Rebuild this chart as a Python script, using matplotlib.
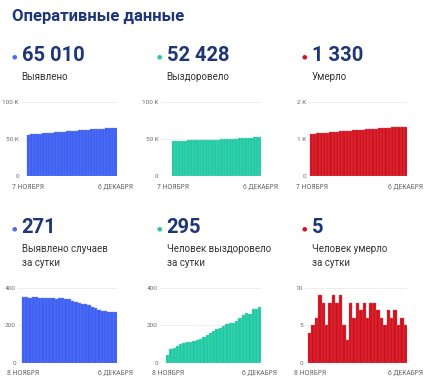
import matplotlib
matplotlib.use("Agg")
import matplotlib.pyplot as plt

W, H = 430, 388

title = "Оперативные данные"

# cumulative totals, 7 Nov .. 6 Dec
cases_total = [55689, 56039, 56387, 56734, 57082, 57431, 57778, 58124, 58469, 58813,
               59156, 59497, 59840, 60184, 60526, 60864, 61194, 61516, 61834, 62150,
               62462, 62768, 63068, 63360, 63644, 63922, 64196, 64468, 64739, 65010]
recovered_total = [47417, 47462, 47537, 47617, 47707, 47807, 47913, 48023, 48137, 48255,
                   48379, 48509, 48647, 48795, 48953, 49121, 49299, 49487, 49685, 49891,
                   50103, 50317, 50539, 50779, 51034, 51302, 51560, 51848, 52133, 52428]
deaths_total = [1138, 1142, 1147, 1153, 1162, 1170, 1175, 1183, 1192, 1200,
                1209, 1214, 1217, 1225, 1231, 1239, 1246, 1254, 1260, 1268,
                1276, 1283, 1289, 1294, 1301, 1307, 1314, 1319, 1325, 1330]

# daily values, 8 Nov .. 6 Dec
cases_daily = [350, 348, 347, 348, 349, 347, 346, 345, 344, 343, 341, 343, 344, 342, 338,
               330, 322, 318, 316, 312, 306, 300, 292, 284, 278, 274, 272, 271, 271]
recovered_daily = [45, 75, 80, 90, 100, 106, 110, 114, 118, 124, 130, 138, 148, 158, 168,
                   178, 188, 198, 206, 212, 214, 222, 240, 255, 268, 258, 288, 285, 295]
deaths_daily = [4, 5, 6, 9, 8, 5, 8, 9, 8, 9, 5, 3, 8, 6, 8, 7, 8, 6, 8, 8,
                7, 6, 5, 7, 6, 7, 5, 6, 5]

big_numbers = ["65 010", "52 428", "1 330", "271", "295", "5"]
labels = ["Выявлено", "Выздоровело", "Умерло",
          "Выявлено случаев\nза сутки", "Человек выздоровело\nза сутки", "Человек умерло\nза сутки"]
first_dates = ["7 НОЯБРЯ", "7 НОЯБРЯ", "7 НОЯБРЯ", "8 НОЯБРЯ", "8 НОЯБРЯ", "8 НОЯБРЯ"]
last_date = "6 ДЕКАБРЯ"

yticks_list = [[0, 50000, 100000], [0, 50000, 100000], [0, 1000, 2000],
               [0, 200, 400], [0, 200, 400], [0, 5, 10]]
ytick_labels = [["0", "50 K", "100 K"], ["0", "50 K", "100 K"], ["0", "1 K", "2 K"],
                ["0", "200", "400"], ["0", "200", "400"], ["0", "5", "10"]]

series = [cases_total, recovered_total, deaths_total,
          cases_daily, recovered_daily, deaths_daily]

BLUE = "#3d5ff2"
TEAL = "#1fc9a3"
RED = "#d1121f"
colors = [BLUE, TEAL, RED, BLUE, TEAL, RED]
edge_colors = ["#6f88f5", "#6fdcc3", "#e0545e"] * 2
dot_colors = ["#4f6fe6", "#2cc6a2", "#cf1424"] * 2
NAVY = "#1c3678"

# layout in pixels: grid-left, bar-left, bar-right
col_px = [(21, 26.7, 117), (160.7, 171.7, 261.5), (308, 310, 407),
          (18, 21.7, 117), (160, 166, 261.5), (305, 308, 407)]
row_y = [(101.7, 176), (287.7, 363)]
num_x = [21.7, 166.7, 311.7]
num_y = [55.5, 227.8]

plt.rcParams['font.family'] = ['Roboto', 'DejaVu Sans']

fig = plt.figure(figsize=(W / 100, H / 100), dpi=100)
fig.patch.set_facecolor("white")

fig.text(12.5 / W, 1 - 16.5 / H, title, fontsize=12, fontweight="bold",
         color=NAVY, va="center", ha="left")

for i, vals in enumerate(series):
    row, col = divmod(i, 3)
    n = len(vals)
    gl0, b0, b1 = col_px[i]
    ytop, ybot = row_y[row]
    ppu = (b1 - b0) / n
    left = -0.5 - (b0 - gl0) / ppu
    right = n - 0.5
    ax = fig.add_axes([gl0 / W, 1 - ybot / H, (b1 - gl0) / W, (ybot - ytop) / H])
    ax.bar(range(n), vals, width=1.0, color=colors[i], zorder=2,
           edgecolor=edge_colors[i], linewidth=0.25)
    ax.set_xlim(left, right)
    ax.set_ylim(0, yticks_list[i][-1])
    ax.set_yticks(yticks_list[i])
    ax.set_yticklabels(ytick_labels[i])
    ax.set_xticks([0, n - 1])
    ax.set_xticklabels([first_dates[i], last_date], family="Noto Sans")
    ax.tick_params(axis="y", length=0, labelsize=4.6, labelcolor="#6b6b6b", pad=1.5)
    ax.tick_params(axis="x", length=0, labelsize=4.8, labelcolor="#5f5f5f",
                   pad=5.6 if row == 0 else 4.9)
    ax.grid(axis="y", color="#ebebeb", linewidth=0.6, zorder=0)
    for s in ax.spines.values():
        s.set_visible(False)

    # headline number and caption
    nx = num_x[col]
    ny = num_y[row]
    fig.text((nx - 7.5) / W, 1 - (ny + 1.2) / H, "●", fontsize=4.5,
             color=dot_colors[i], va="center", ha="center", family="DejaVu Sans")
    fig.text(nx / W, 1 - ny / H, big_numbers[i], fontsize=14.5, fontweight="bold",
             color=NAVY, va="center", ha="left")
    ly = 76 if row == 0 else 247.7
    fig.text(nx / W, 1 - (ly - 4) / H, labels[i], fontsize=7, color="#333333",
             va="top", ha="left", linespacing=1.6)

fig.savefig("out.png", dpi=100, facecolor="white")
